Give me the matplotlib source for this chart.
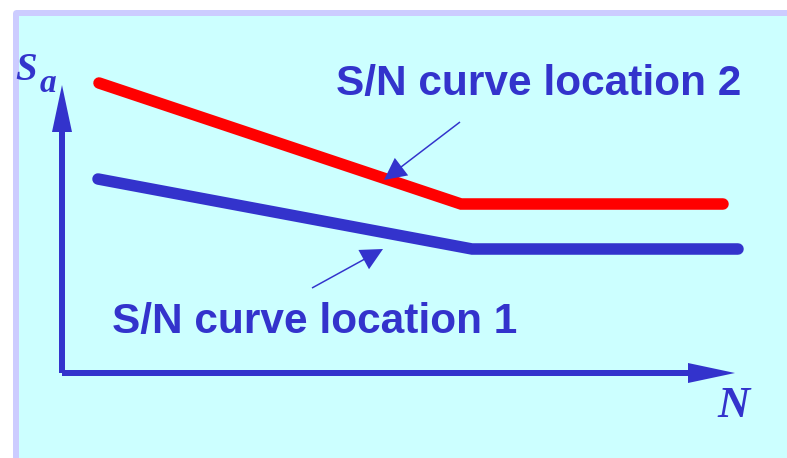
import matplotlib
matplotlib.use("Agg")
import matplotlib.pyplot as plt
from matplotlib.patches import FancyArrow, FancyBboxPatch

# Schematic S/N curves: (N position, Sa level) in drawing units, origin at the axes corner
loc2_n = [37, 399, 661]
loc2_s = [290, 169, 169]
loc1_n = [36, 410, 676]
loc1_s = [194, 124, 124]

labels = ["S/N curve location 2", "S/N curve location 1"]
axis_names = ["S", "a", "N"]

BLUE = "#3333CC"
RED = "#FF0000"
CYAN = "#CCFFFF"
LAVENDER = "#CCCCFF"

fig = plt.figure(figsize=(7.87, 4.58), dpi=100)
fig.patch.set_facecolor("white")
ax = fig.add_axes([0, 0, 1, 1])
ax.set_xlim(-62, 725)
ax.set_ylim(-85, 373)
ax.set_axis_off()

# slide panel: lavender frame on top/left, cyan fill
ax.add_patch(FancyBboxPatch((-49, -95), 900, 458, boxstyle="round,pad=0,rounding_size=4",
                            facecolor=LAVENDER, edgecolor="none", zorder=0))
ax.add_patch(FancyBboxPatch((-43, -95), 900, 452, boxstyle="square,pad=0",
                            facecolor=CYAN, edgecolor="none", zorder=0.5))

# coordinate axes as arrows
ax.add_patch(FancyArrow(0, 0, 673, 0, width=6, head_width=20, head_length=47,
                        length_includes_head=True, color=BLUE, lw=0, zorder=2))
ax.add_patch(FancyArrow(0, 0, 0, 288, width=6, head_width=20, head_length=47,
                        length_includes_head=True, color=BLUE, lw=0, zorder=2))

# the two curves
ax.plot(loc2_n, loc2_s, color=RED, lw=8.3, solid_capstyle="round",
        solid_joinstyle="miter", zorder=3)
ax.plot(loc1_n, loc1_s, color=BLUE, lw=8.3, solid_capstyle="round",
        solid_joinstyle="miter", zorder=3)

# pointer arrows
ax.add_patch(FancyArrow(398, 251, -76, -58, width=1.5, head_width=22, head_length=22,
                        length_includes_head=True, color=BLUE, lw=0, zorder=4))
ax.add_patch(FancyArrow(250, 85, 71, 39, width=1.5, head_width=22, head_length=22,
                        length_includes_head=True, color=BLUE, lw=0, zorder=4))

# curve labels
ax.text(274, 278, labels[0], fontsize=30.5, fontweight="bold", family="Liberation Sans",
        color=BLUE, ha="left", va="baseline", zorder=5)
ax.text(50, 40, labels[1], fontsize=30.5, fontweight="bold", family="Liberation Sans",
        color=BLUE, ha="left", va="baseline", zorder=5)

# axis names
ax.text(-47, 293, axis_names[0], fontsize=28, style="italic", fontweight="bold",
        family="Liberation Serif", color=BLUE, ha="left", va="baseline", zorder=5)
ax.text(-22, 281, axis_names[1], fontsize=24, style="italic", fontweight="bold",
        family="Liberation Serif", color=BLUE, ha="left", va="baseline", zorder=5)
ax.text(655, -44, axis_names[2], fontsize=32, style="italic", fontweight="bold",
        family="Liberation Serif", color=BLUE, ha="left", va="baseline", zorder=5)

fig.savefig("out.png", dpi=100, facecolor=fig.get_facecolor())
